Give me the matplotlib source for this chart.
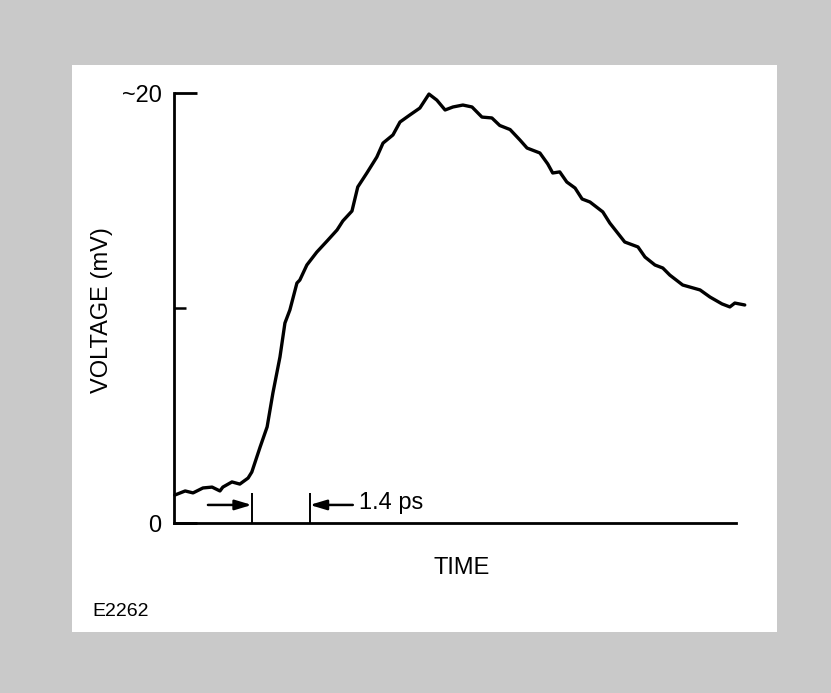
import numpy as np
import matplotlib
matplotlib.use("Agg")
import matplotlib.pyplot as plt
from matplotlib.patches import Rectangle

plt.rcParams["font.family"] = ["Liberation Sans", "DejaVu Sans"]

# pulse trace (time in ps from the axis origin, voltage in mV)
time_ps = [0.02, 0.27, 0.46, 0.70, 0.92, 1.11, 1.18, 1.40, 1.59, 1.79,
           1.88, 2.08, 2.25, 2.39, 2.56, 2.68, 2.80, 2.97, 3.04, 3.21,
           3.45, 3.70, 3.94, 4.08, 4.30, 4.44, 4.66, 4.90, 5.05, 5.29,
           5.46, 5.70, 5.94, 6.16, 6.35, 6.55, 6.74, 6.98, 7.20, 7.44,
           7.68, 7.87, 8.12, 8.36, 8.53, 8.84, 9.03, 9.15, 9.32, 9.49,
           9.69, 9.86, 10.05, 10.36, 10.53, 10.89, 11.21, 11.38, 11.62, 11.81,
           11.98, 12.29, 12.71, 12.95, 13.24, 13.43, 13.55, 13.79]
voltage_mv = [1.30, 1.49, 1.40, 1.63, 1.67, 1.49, 1.67, 1.91, 1.81, 2.09,
              2.37, 3.53, 4.47, 6.05, 7.72, 9.30, 9.91, 11.16, 11.30, 12.00,
              12.60, 13.12, 13.63, 14.05, 14.51, 15.63, 16.28, 17.02, 17.67, 18.05,
              18.65, 18.98, 19.30, 19.95, 19.67, 19.21, 19.35, 19.44, 19.35, 18.88,
              18.84, 18.49, 18.30, 17.81, 17.44, 17.21, 16.70, 16.28, 16.33, 15.86,
              15.58, 15.07, 14.93, 14.47, 13.95, 13.07, 12.84, 12.37, 12.00, 11.86,
              11.53, 11.07, 10.84, 10.51, 10.19, 10.05, 10.23, 10.14]

# 1.4 ps rise-time markers
marker_start = 1.88
marker_width = 1.4
marker_label = "1.4 ps"

ytick_vals = [0, 20]
ytick_labels = ["0", "~20"]
ymid_tick = [10]

W, H = 831, 693
fig = plt.figure(figsize=(W / 100, H / 100), dpi=100, facecolor="#c9c9c9")

# white panel inside the grainy border
fig.patches.append(Rectangle((72 / W, 1 - 632 / H), (777 - 72) / W, (632 - 65) / H,
                             transform=fig.transFigure, facecolor="white",
                             edgecolor="none", zorder=-5))

left, right, bottom, top = 174, 746, 523, 93
ax = fig.add_axes([left / W, 1 - bottom / H, (right - left) / W, (bottom - top) / H])
ax.set_facecolor("none")
ax.set_zorder(2)

ax.plot(time_ps, voltage_mv, color="black", lw=2.4, solid_joinstyle="round",
        solid_capstyle="round", clip_on=False)

ax.set_xlim(0, 13.82)
ax.set_ylim(0, 20)
for s in ["top", "right"]:
    ax.spines[s].set_visible(False)
ax.spines["left"].set_linewidth(2.0)
ax.spines["bottom"].set_linewidth(2.0)
ax.spines["bottom"].set_bounds(0, 13.57)
ax.spines["left"].set_bounds(0, 20)

ax.set_xticks([])
ax.set_yticks(ytick_vals)
ax.set_yticklabels(ytick_labels, fontsize=17)
ax.set_yticks(ymid_tick, minor=True)
ax.tick_params(axis="y", which="major", direction="in", length=16.5, width=2.0, pad=9)
ax.tick_params(axis="y", which="minor", direction="in", length=8.6, width=1.8)

# marker lines and arrows
mk_top = 1.40
arrow_y = 0.84
ax.vlines([marker_start, marker_start + marker_width], 0, mk_top, color="black", lw=1.4)
arrow = dict(arrowstyle="-|>,head_length=1.0,head_width=0.3", color="black",
             lw=1.8, mutation_scale=10, shrinkA=0, shrinkB=0)
ax.annotate("", xy=(marker_start, arrow_y), xytext=(marker_start - 1.06, arrow_y),
            arrowprops=arrow)
ax.annotate("", xy=(marker_start + marker_width, arrow_y),
            xytext=(marker_start + marker_width + 1.04, arrow_y), arrowprops=arrow)
ax.text(marker_start + marker_width + 1.18, arrow_y + 0.1, marker_label,
        fontsize=17, ha="left", va="center")

fig.text(102 / W, 1 - 310 / H, "VOLTAGE (mV)", rotation=90, fontsize=17,
         ha="center", va="center")
fig.text(462 / W, 1 - 568 / H, "TIME", fontsize=17, ha="center", va="center")
fig.text(92 / W, 1 - 612 / H, "E2262", fontsize=14, ha="left", va="center")

fig.savefig("out.png", dpi=100, facecolor=fig.get_facecolor())
